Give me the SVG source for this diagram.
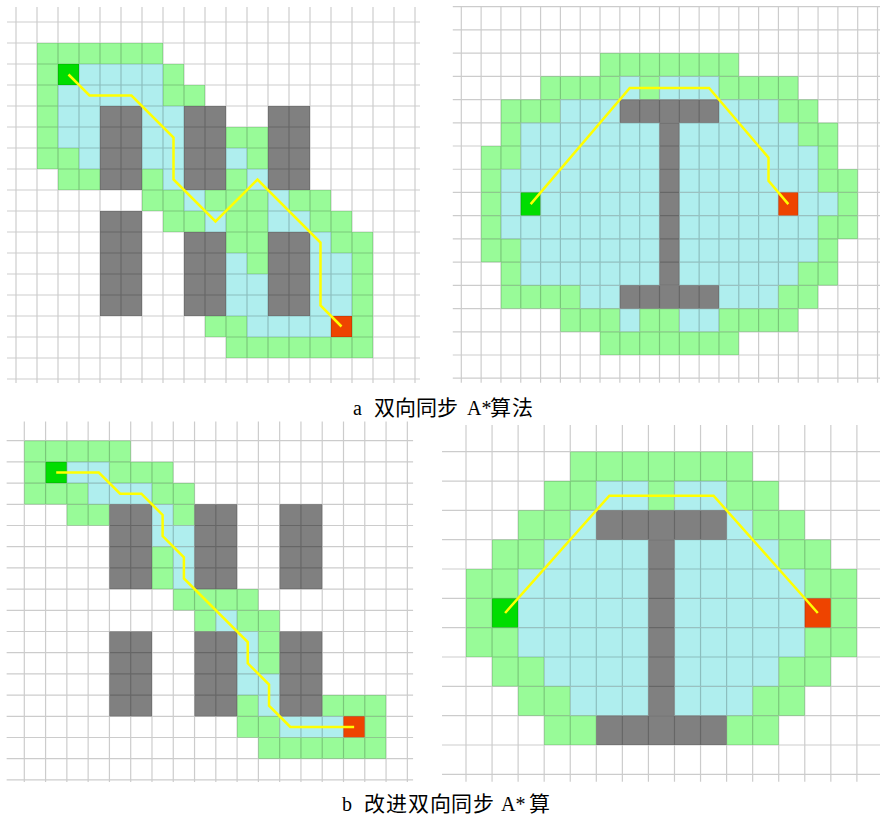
<svg xmlns="http://www.w3.org/2000/svg" width="880" height="818" viewBox="0 0 880 818">
<style>
.g{fill:#98FB98}
.c{fill:#AFEEEE}
.o{fill:#808080}
.s{fill:#00DD00}
.e{fill:#EE4400}
.grid{fill:none;stroke:#000;stroke-opacity:0.2;stroke-width:1.2}
.route{fill:none;stroke:#FFFF00;stroke-width:2.5;stroke-linejoin:miter}
.ns{vector-effect:non-scaling-stroke}
.lat{font-family:"Liberation Serif","Times New Roman",serif;font-size:20px;fill:#000}
.cjk{font-family:"Noto Sans CJK SC","Noto Sans",sans-serif;font-size:21px;fill:#000}
</style>
<rect width="880" height="818" fill="#fff"/>

<!-- Panel a-left -->
<g id="panel-a1" transform="translate(16,22) scale(21,21)">
<g id="a1-cells">
<rect class="g" x="1" y="1" width="6" height="1"/>
<rect class="g" x="1" y="2" width="1" height="1"/><rect class="s" x="2" y="2" width="1" height="1"/><rect class="c" x="3" y="2" width="4" height="1"/><rect class="g" x="7" y="2" width="1" height="1"/>
<rect class="g" x="1" y="3" width="1" height="1"/><rect class="c" x="2" y="3" width="5" height="1"/><rect class="g" x="7" y="3" width="2" height="1"/>
<rect class="g" x="1" y="4" width="1" height="1"/><rect class="c" x="2" y="4" width="2" height="1"/><rect class="c" x="6" y="4" width="2" height="1"/>
<rect class="g" x="1" y="5" width="1" height="1"/><rect class="c" x="2" y="5" width="2" height="1"/><rect class="c" x="6" y="5" width="2" height="1"/><rect class="g" x="10" y="5" width="2" height="1"/>
<rect class="g" x="1" y="6" width="2" height="1"/><rect class="c" x="3" y="6" width="1" height="1"/><rect class="c" x="6" y="6" width="2" height="1"/><rect class="c" x="10" y="6" width="1" height="1"/><rect class="g" x="11" y="6" width="1" height="1"/>
<rect class="g" x="2" y="7" width="2" height="1"/><rect class="g" x="6" y="7" width="1" height="1"/><rect class="c" x="7" y="7" width="1" height="1"/><rect class="g" x="10" y="7" width="1" height="1"/><rect class="c" x="11" y="7" width="1" height="1"/>
<rect class="g" x="6" y="8" width="2" height="1"/><rect class="c" x="8" y="8" width="1" height="1"/><rect class="g" x="9" y="8" width="3" height="1"/><rect class="c" x="12" y="8" width="1" height="1"/><rect class="g" x="13" y="8" width="2" height="1"/>
<rect class="g" x="7" y="9" width="2" height="1"/><rect class="c" x="9" y="9" width="1" height="1"/><rect class="g" x="10" y="9" width="2" height="1"/><rect class="c" x="12" y="9" width="2" height="1"/><rect class="g" x="14" y="9" width="2" height="1"/>
<rect class="g" x="10" y="10" width="2" height="1"/><rect class="c" x="14" y="10" width="1" height="1"/><rect class="g" x="15" y="10" width="2" height="1"/>
<rect class="c" x="10" y="11" width="1" height="1"/><rect class="g" x="11" y="11" width="1" height="1"/><rect class="c" x="14" y="11" width="2" height="1"/><rect class="g" x="16" y="11" width="1" height="1"/>
<rect class="c" x="10" y="12" width="2" height="2"/><rect class="c" x="14" y="12" width="2" height="2"/><rect class="g" x="16" y="12" width="1" height="2"/>
<rect class="g" x="9" y="14" width="2" height="1"/><rect class="c" x="11" y="14" width="4" height="1"/><rect class="e" x="15" y="14" width="1" height="1"/><rect class="g" x="16" y="14" width="1" height="1"/>
<rect class="g" x="10" y="15" width="7" height="1"/>
</g>
<g id="a1-obstacles">
<rect class="o" x="4" y="4" width="2" height="4"/><rect class="o" x="8" y="4" width="2" height="4"/><rect class="o" x="12" y="4" width="2" height="4"/>
<rect class="o" x="4" y="9" width="2" height="5"/><rect class="o" x="8" y="10" width="2" height="4"/><rect class="o" x="12" y="10" width="2" height="4"/>
</g>
<path class="grid ns" d="M0 -0.714V17.19M1 -0.714V17.19M2 -0.714V17.19M3 -0.714V17.19M4 -0.714V17.19M5 -0.714V17.19M6 -0.714V17.19M7 -0.714V17.19M8 -0.714V17.19M9 -0.714V17.19M10 -0.714V17.19M11 -0.714V17.19M12 -0.714V17.19M13 -0.714V17.19M14 -0.714V17.19M15 -0.714V17.19M16 -0.714V17.19M17 -0.714V17.19M18 -0.714V17.19M19 -0.714V17.19M-0.43 0H19.24M-0.43 1H19.24M-0.43 2H19.24M-0.43 3H19.24M-0.43 4H19.24M-0.43 5H19.24M-0.43 6H19.24M-0.43 7H19.24M-0.43 8H19.24M-0.43 9H19.24M-0.43 10H19.24M-0.43 11H19.24M-0.43 12H19.24M-0.43 13H19.24M-0.43 14H19.24M-0.43 15H19.24M-0.43 16H19.24M-0.43 17H19.24"/>
<polyline class="route ns" points="2.5,2.5 3.5,3.5 5.5,3.5 7.5,5.5 7.5,7.5 9.5,9.5 11.5,7.5 14.5,10.5 14.5,13.5 15.5,14.5"/>
</g>

<!-- Panel a-right -->
<g id="panel-a2" transform="translate(461.3,6.7) scale(19.82,23.22)">
<g id="a2-cells">
<rect class="g" x="7" y="2" width="7" height="1"/>
<rect class="g" x="4" y="3" width="4" height="1"/><rect class="c" x="8" y="3" width="1" height="1"/><rect class="g" x="9" y="3" width="1" height="1"/><rect class="c" x="10" y="3" width="3" height="1"/><rect class="g" x="13" y="3" width="4" height="1"/>
<rect class="g" x="2" y="4" width="3" height="1"/><rect class="c" x="5" y="4" width="3" height="1"/><rect class="c" x="13" y="4" width="3" height="1"/><rect class="g" x="16" y="4" width="2" height="1"/>
<rect class="g" x="2" y="5" width="1" height="1"/><rect class="c" x="3" y="5" width="7" height="1"/><rect class="c" x="11" y="5" width="6" height="1"/><rect class="g" x="17" y="5" width="2" height="1"/>
<rect class="g" x="1" y="6" width="2" height="1"/><rect class="c" x="3" y="6" width="7" height="1"/><rect class="c" x="11" y="6" width="7" height="1"/><rect class="g" x="18" y="6" width="1" height="1"/>
<rect class="g" x="1" y="7" width="1" height="1"/><rect class="c" x="2" y="7" width="8" height="1"/><rect class="c" x="11" y="7" width="7" height="1"/><rect class="g" x="18" y="7" width="2" height="1"/>
<rect class="g" x="1" y="8" width="1" height="1"/><rect class="c" x="2" y="8" width="1" height="1"/><rect class="s" x="3" y="8" width="1" height="1"/><rect class="c" x="4" y="8" width="6" height="1"/><rect class="c" x="11" y="8" width="5" height="1"/><rect class="e" x="16" y="8" width="1" height="1"/><rect class="c" x="17" y="8" width="2" height="1"/><rect class="g" x="19" y="8" width="1" height="1"/>
<rect class="g" x="1" y="9" width="1" height="1"/><rect class="c" x="2" y="9" width="8" height="1"/><rect class="c" x="11" y="9" width="7" height="1"/><rect class="g" x="18" y="9" width="2" height="1"/>
<rect class="g" x="1" y="10" width="2" height="1"/><rect class="c" x="3" y="10" width="7" height="1"/><rect class="c" x="11" y="10" width="7" height="1"/><rect class="g" x="18" y="10" width="1" height="1"/>
<rect class="g" x="2" y="11" width="1" height="1"/><rect class="c" x="3" y="11" width="7" height="1"/><rect class="c" x="11" y="11" width="6" height="1"/><rect class="g" x="17" y="11" width="2" height="1"/>
<rect class="g" x="2" y="12" width="4" height="1"/><rect class="c" x="6" y="12" width="2" height="1"/><rect class="c" x="13" y="12" width="3" height="1"/><rect class="g" x="16" y="12" width="2" height="1"/>
<rect class="g" x="5" y="13" width="3" height="1"/><rect class="c" x="8" y="13" width="1" height="1"/><rect class="g" x="9" y="13" width="2" height="1"/><rect class="c" x="11" y="13" width="2" height="1"/><rect class="g" x="13" y="13" width="4" height="1"/>
<rect class="g" x="7" y="14" width="7" height="1"/>
</g>
<g id="a2-obstacle">
<rect class="o" x="8" y="4" width="5" height="1"/><rect class="o" x="10" y="5" width="1" height="7"/><rect class="o" x="8" y="12" width="5" height="1"/>
</g>
<path class="grid ns" d="M0 0V16.2M1 0V16.2M2 0V16.2M3 0V16.2M4 0V16.2M5 0V16.2M6 0V16.2M7 0V16.2M8 0V16.2M9 0V16.2M10 0V16.2M11 0V16.2M12 0V16.2M13 0V16.2M14 0V16.2M15 0V16.2M16 0V16.2M17 0V16.2M18 0V16.2M19 0V16.2M20 0V16.2M21 0V16.2M-0.43 0H21.2M-0.43 1H21.2M-0.43 2H21.2M-0.43 3H21.2M-0.43 4H21.2M-0.43 5H21.2M-0.43 6H21.2M-0.43 7H21.2M-0.43 8H21.2M-0.43 9H21.2M-0.43 10H21.2M-0.43 11H21.2M-0.43 12H21.2M-0.43 13H21.2M-0.43 14H21.2M-0.43 15H21.2M-0.43 16H21.2"/>
<polyline class="route ns" points="3.5,8.5 8.5,3.5 12.5,3.5 15.5,6.5 15.5,7.5 16.5,8.5"/>
</g>

<!-- Panel b-left -->
<g id="panel-b1" transform="translate(24.3,440.7) scale(21.28,21.2)">
<g id="b1-cells">
<rect class="g" x="0" y="0" width="5" height="1"/>
<rect class="g" x="0" y="1" width="1" height="1"/><rect class="s" x="1" y="1" width="1" height="1"/><rect class="c" x="2" y="1" width="2" height="1"/><rect class="g" x="4" y="1" width="3" height="1"/>
<rect class="g" x="0" y="2" width="3" height="1"/><rect class="c" x="3" y="2" width="3" height="1"/><rect class="g" x="6" y="2" width="2" height="1"/>
<rect class="g" x="2" y="3" width="2" height="1"/><rect class="c" x="6" y="3" width="1" height="1"/><rect class="g" x="7" y="3" width="1" height="1"/>
<rect class="c" x="6" y="4" width="2" height="1"/>
<rect class="g" x="6" y="5" width="1" height="2"/><rect class="c" x="7" y="5" width="1" height="2"/>
<rect class="g" x="7" y="7" width="4" height="1"/>
<rect class="g" x="8" y="8" width="1" height="1"/><rect class="c" x="9" y="8" width="1" height="1"/><rect class="g" x="10" y="8" width="2" height="1"/>
<rect class="c" x="10" y="9" width="1" height="2"/><rect class="g" x="11" y="9" width="1" height="2"/>
<rect class="c" x="10" y="11" width="2" height="1"/>
<rect class="g" x="10" y="12" width="1" height="1"/><rect class="c" x="11" y="12" width="1" height="1"/><rect class="g" x="14" y="12" width="3" height="1"/>
<rect class="g" x="10" y="13" width="2" height="1"/><rect class="c" x="12" y="13" width="3" height="1"/><rect class="e" x="15" y="13" width="1" height="1"/><rect class="g" x="16" y="13" width="1" height="1"/>
<rect class="g" x="11" y="14" width="6" height="1"/>
</g>
<g id="b1-obstacles">
<rect class="o" x="4" y="3" width="2" height="4"/><rect class="o" x="8" y="3" width="2" height="4"/><rect class="o" x="12" y="3" width="2" height="4"/>
<rect class="o" x="4" y="9" width="2" height="4"/><rect class="o" x="8" y="9" width="2" height="4"/><rect class="o" x="12" y="9" width="2" height="4"/>
</g>
<path class="grid ns" d="M0 -0.9V16.1M1 -0.9V16.1M2 -0.9V16.1M3 -0.9V16.1M4 -0.9V16.1M5 -0.9V16.1M6 -0.9V16.1M7 -0.9V16.1M8 -0.9V16.1M9 -0.9V16.1M10 -0.9V16.1M11 -0.9V16.1M12 -0.9V16.1M13 -0.9V16.1M14 -0.9V16.1M15 -0.9V16.1M16 -0.9V16.1M17 -0.9V16.1M18 -0.9V16.1M-0.83 0H18.27M-0.83 1H18.27M-0.83 2H18.27M-0.83 3H18.27M-0.83 4H18.27M-0.83 5H18.27M-0.83 6H18.27M-0.83 7H18.27M-0.83 8H18.27M-0.83 9H18.27M-0.83 10H18.27M-0.83 11H18.27M-0.83 12H18.27M-0.83 13H18.27M-0.83 14H18.27M-0.83 15H18.27M-0.83 16H18.27"/>
<polyline class="route ns" points="1.5,1.5 3.5,1.5 4.5,2.5 5.5,2.5 6.5,3.5 6.5,4.5 7.5,5.5 7.5,6.5 10.5,9.5 10.5,10.5 11.5,11.5 11.5,12.5 12.5,13.5 15.5,13.5"/>
</g>

<!-- Panel b-right -->
<g id="panel-b2" transform="translate(466,451.7) scale(26.06,29.33)">
<g id="b2-cells">
<rect class="g" x="4" y="0" width="7" height="1"/>
<rect class="g" x="3" y="1" width="2" height="1"/><rect class="c" x="5" y="1" width="2" height="1"/><rect class="g" x="7" y="1" width="1" height="1"/><rect class="c" x="8" y="1" width="2" height="1"/><rect class="g" x="10" y="1" width="2" height="1"/>
<rect class="g" x="2" y="2" width="2" height="1"/><rect class="c" x="4" y="2" width="1" height="1"/><rect class="c" x="10" y="2" width="1" height="1"/><rect class="g" x="11" y="2" width="2" height="1"/>
<rect class="g" x="1" y="3" width="2" height="1"/><rect class="c" x="3" y="3" width="4" height="1"/><rect class="c" x="8" y="3" width="4" height="1"/><rect class="g" x="12" y="3" width="2" height="1"/>
<rect class="g" x="0" y="4" width="2" height="1"/><rect class="c" x="2" y="4" width="5" height="1"/><rect class="c" x="8" y="4" width="5" height="1"/><rect class="g" x="13" y="4" width="2" height="1"/>
<rect class="g" x="0" y="5" width="1" height="1"/><rect class="s" x="1" y="5" width="1" height="1"/><rect class="c" x="2" y="5" width="5" height="1"/><rect class="c" x="8" y="5" width="5" height="1"/><rect class="e" x="13" y="5" width="1" height="1"/><rect class="g" x="14" y="5" width="1" height="1"/>
<rect class="g" x="0" y="6" width="2" height="1"/><rect class="c" x="2" y="6" width="5" height="1"/><rect class="c" x="8" y="6" width="5" height="1"/><rect class="g" x="13" y="6" width="2" height="1"/>
<rect class="g" x="1" y="7" width="2" height="1"/><rect class="c" x="3" y="7" width="4" height="1"/><rect class="c" x="8" y="7" width="4" height="1"/><rect class="g" x="12" y="7" width="2" height="1"/>
<rect class="g" x="2" y="8" width="2" height="1"/><rect class="c" x="4" y="8" width="3" height="1"/><rect class="c" x="8" y="8" width="3" height="1"/><rect class="g" x="11" y="8" width="2" height="1"/>
<rect class="g" x="3" y="9" width="2" height="1"/><rect class="g" x="10" y="9" width="2" height="1"/>
</g>
<g id="b2-obstacle">
<rect class="o" x="5" y="2" width="5" height="1"/><rect class="o" x="7" y="3" width="1" height="6"/><rect class="o" x="5" y="9" width="5" height="1"/>
</g>
<path class="grid ns" d="M0 -0.91V11.25M1 -0.91V11.25M2 -0.91V11.25M3 -0.91V11.25M4 -0.91V11.25M5 -0.91V11.25M6 -0.91V11.25M7 -0.91V11.25M8 -0.91V11.25M9 -0.91V11.25M10 -0.91V11.25M11 -0.91V11.25M12 -0.91V11.25M13 -0.91V11.25M14 -0.91V11.25M15 -0.91V11.25M-0.92 0H15.9M-0.92 1H15.9M-0.92 2H15.9M-0.92 3H15.9M-0.92 4H15.9M-0.92 5H15.9M-0.92 6H15.9M-0.92 7H15.9M-0.92 8H15.9M-0.92 9H15.9M-0.92 10H15.9M-0.92 11H15.9"/>
<polyline class="route ns" points="1.5,5.5 5.5,1.5 9.5,1.5 13.5,5.5"/>
</g>

<!-- Captions -->
<g id="caption-a">
<text y="415"><tspan class="lat" x="353">a</tspan><tspan class="cjk" x="374 395 416 437">双向同步</tspan><tspan class="lat" x="467">A*</tspan><tspan class="cjk" x="490 512">算法</tspan></text>
</g>
<g id="caption-b">
<text y="811"><tspan class="lat" x="342">b</tspan><tspan class="cjk" x="364 386 408 430 451 473">改进双向同步</tspan><tspan class="lat" x="501">A*</tspan><tspan class="cjk" x="529">算</tspan></text>
</g>
</svg>
